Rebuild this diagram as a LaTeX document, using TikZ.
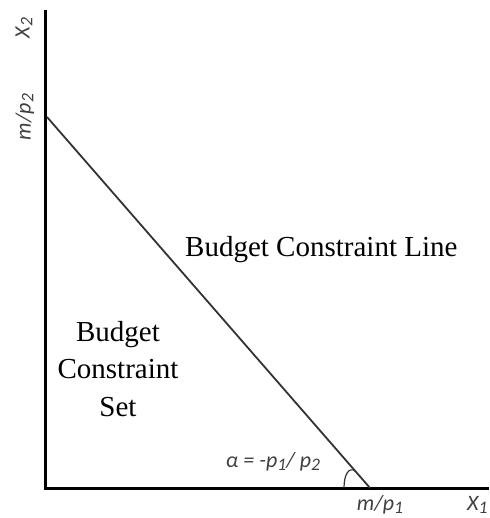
\documentclass[tikz,border=0pt]{standalone}
\usepackage{fontspec}
\usepackage{graphicx}
\setmainfont{Liberation Serif}
\newfontfamily\labelfont{Carlito}
\newcommand\lsub[1]{\raisebox{-0.12em}{\scalebox{0.8}{#1}}}
\tikzset{
  axisline/.style={line width=3.2pt, black},
  budgetline/.style={line width=1.8pt, black!80},
  bigtext/.style={font=\fontsize{29}{37.5}\selectfont, inner sep=0pt},
  smalllabel/.style={font=\labelfont\itshape\fontsize{22}{26}\selectfont, text=black!75, inner sep=0pt},
}
\begin{document}
\begin{tikzpicture}[x=1pt,y=1pt]
\useasboundingbox (0,0) rectangle (489,518);
\coordinate (O) at (45.5,29.5);
\coordinate (ytop) at (45.5,508);
\coordinate (xend) at (489,29.5);
\coordinate (A) at (47,401);
\coordinate (B) at (370,30);
\draw[axisline, line cap=butt] (ytop) -- (O) -- (xend);
\draw[budgetline] (A) -- (B);
\coordinate (arcs) at (344,30);
\coordinate (arce) at (355,47.2);
\draw[line width=1.2pt, black!80] (arcs) .. controls (344,44) and (349,51) .. (arce);
\node[bigtext, anchor=base west] (line) at (185,261) {Budget Constraint Line};
\node[bigtext, align=center, anchor=center] (set) at (118,149) {Budget\\Constraint\\Set};
\node[smalllabel, anchor=base] (alpha) at (273,50) {α = -p\lsub{1}/ p\lsub{2}};
\node[smalllabel, anchor=base] (mp1) at (380,7) {m/p\lsub{1}};
\node[smalllabel, anchor=base west] (x1) at (467,7) {X\lsub{1}};
\node[smalllabel, rotate=90] (x2) at (24,490) {X\lsub{2}};
\node[smalllabel, rotate=90] (mp2) at (25,401) {m/p\lsub{2}};
\end{tikzpicture}
\end{document}
